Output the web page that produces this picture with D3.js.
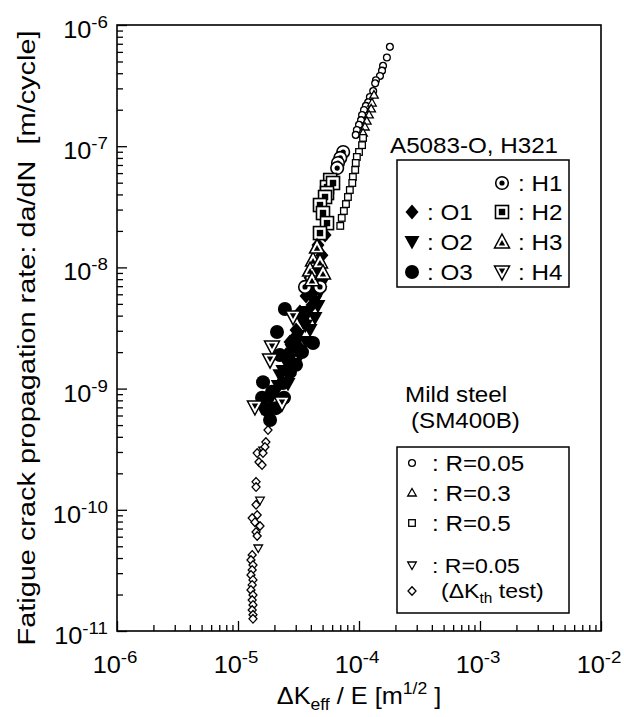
<!DOCTYPE html>
<html>
<head>
<meta charset="utf-8">
<script src="https://cdn.jsdelivr.net/npm/d3@7/dist/d3.min.js"></script>
<style>
  body { margin: 0; background: #fff; }
  svg text { font-family: "Liberation Sans", Arial, sans-serif; fill: #000; }
</style>
</head>
<body>
<div id="chart"></div>
<script>
// ---- data: [dK_eff/E (m^1/2), da/dN (m/cycle)] ----
// A5083-O
const O1 = [[5.24e-5,1.85e-8],[4.58e-5,1.53e-8],[4.94e-5,1.26e-8],[4.25e-5,1.11e-8],[4.76e-5,9.5e-9],
  [3.94e-5,8.2e-9],[4.41e-5,6.76e-9],[3.65e-5,5.8e-9],[4.09e-5,4.9e-9],[3.25e-5,4.29e-9],[3.58e-5,3.55e-9],
  [3.02e-5,3.05e-9],[2.69e-5,2.42e-9],[3.25e-5,2.16e-9],[4.4e-5,1.0e-8],[3.8e-5,6.5e-9],[3.4e-5,4.0e-9],
  [2.9e-5,2.6e-9],[2.5e-5,1.9e-9]];
const O2 = [[4.76e-5,6.27e-9],[4.09e-5,5.6e-9],[4.58e-5,4.8e-9],[3.79e-5,4.29e-9],[4.33e-5,3.83e-9],
  [3.44e-5,3.55e-9],[3.94e-5,3.05e-9],[3.13e-5,2.72e-9],[3.65e-5,2.42e-9],[2.79e-5,2.08e-9],[3.25e-5,1.86e-9],
  [2.49e-5,1.66e-9],[2.90e-5,1.48e-9],[2.22e-5,1.29e-9],[2.59e-5,1.09e-9],[2.06e-5,9.4e-10],[1.84e-5,8.05e-10],
  [1.58e-5,6.9e-10],[5.0e-5,7.5e-9],[4.3e-5,5.2e-9],[3.6e-5,3.3e-9],[3.0e-5,2.3e-9],[2.7e-5,1.75e-9],
  [2.35e-5,1.4e-9],[2.15e-5,1.05e-9]];
const O3 = [[2.44e-5,4.54e-9],[2.10e-5,2.93e-9],[4.17e-5,2.38e-9],[3.38e-5,2.0e-9],[1.61e-5,1.13e-9],
  [2.35e-5,1.11e-9],[1.74e-5,6.65e-10],[1.84e-5,5.5e-10],[2.69e-5,1.37e-9],[1.91e-5,9.4e-10],[2.22e-5,1.89e-9],
  [1.58e-5,8.4e-10],[3.02e-5,1.57e-9],[2.40e-5,8.4e-10],[2.06e-5,6.9e-10]];
// A5083-H321
const H1 = [[7.4e-5,8.96e-8],[7.0e-5,8.0e-8],[6.7e-5,7.27e-8],[6.6e-5,6.6e-8],[3.58e-5,6.9e-9],
  [4.76e-5,6.9e-9],[4.09e-5,8.2e-9]];
const H2 = [[5.78e-5,5.26e-8],[5.44e-5,4.6e-8],[6.1e-5,4.97e-8],[5.44e-5,4.11e-8],[5.24e-5,3.81e-8],
  [4.76e-5,3.27e-8],[5.04e-5,2.81e-8],[5.44e-5,2.32e-8],[4.76e-5,1.92e-8]];
const H3 = [[4.17e-5,1.15e-8],[3.94e-5,9.5e-9],[4.09e-5,7.9e-9],[4.76e-5,1.11e-8],[5.04e-5,9.0e-9],
  [4.50e-5,1.47e-8]];
const H4 = [[1.91e-5,2.2e-9],[1.84e-5,1.72e-9],[1.38e-5,7.05e-10],[2.31e-5,7.6e-10],[2.85e-5,3.9e-9]];
// mild steel SM400B
const steelR005 = [[1.80e-4,6.6e-7],[1.70e-4,5.4e-7],[1.58e-4,4.6e-7],[1.55e-4,4.2e-7],[1.49e-4,3.8e-7],
  [1.38e-4,3.5e-7],[1.36e-4,3.3e-7],[1.31e-4,2.85e-7],[1.23e-4,2.55e-7],[1.19e-4,2.3e-7],[1.14e-4,2.15e-7],
  [1.10e-4,1.99e-7],[1.06e-4,1.81e-7],[1.04e-4,1.64e-7],[1.00e-4,1.50e-7],[9.6e-5,1.36e-7],[9.4e-5,1.24e-7]];
const steelR03 = [[1.33e-4,2.64e-7],[1.28e-4,2.27e-7],[1.26e-4,2.03e-7],[1.21e-4,1.81e-7],[1.16e-4,1.61e-7],
  [1.12e-4,1.44e-7],[1.08e-4,1.285e-7]];
const steelR05 = [[1.08e-4,1.17e-7],[1.06e-4,1.02e-7],[1.00e-4,8.96e-8],[9.6e-5,8.15e-8],[9.4e-5,7.27e-8],
  [9.3e-5,6.37e-8],[8.9e-5,5.57e-8],[8.8e-5,4.97e-8],[8.4e-5,4.35e-8],[8.1e-5,3.81e-8],[7.8e-5,3.33e-8],
  [7.5e-5,2.92e-8],[7.2e-5,2.56e-8],[7.0e-5,2.2e-8]];
const steelKthR005 = [[1.52e-5,1.20e-10],[1.47e-5,4.84e-11],[1.61e-5,3.11e-10]];
const steelKthDia = [[1.77e-5,4.55e-10],[1.70e-5,3.62e-10],[1.67e-5,3.3e-10],[1.44e-5,2.94e-10],[1.61e-5,2.94e-10],
  [1.49e-5,2.48e-10],[1.58e-5,2.34e-10],[1.41e-5,1.70e-10],[1.41e-5,1.54e-10],[1.41e-5,1.10e-10],
  [1.44e-5,9.06e-11],[1.31e-5,8.55e-11],[1.38e-5,7.9e-11],[1.52e-5,7.35e-11],[1.41e-5,6.56e-11],[1.44e-5,6.08e-11],
  [1.31e-5,4.24e-11],[1.28e-5,3.85e-11],[1.33e-5,3.5e-11],[1.31e-5,3.19e-11],[1.28e-5,2.9e-11],[1.33e-5,2.64e-11],
  [1.31e-5,2.4e-11],[1.28e-5,2.18e-11],[1.33e-5,1.98e-11],[1.31e-5,1.80e-11],[1.33e-5,1.64e-11],[1.31e-5,1.49e-11],
  [1.33e-5,1.36e-11],[1.33e-5,1.26e-11]];

const xDecades = [-6, -5, -4, -3, -2];
const yDecades = [-11, -10, -9, -8, -7, -6];

const W = 624, H = 717;
const margin = { top: 25, right: 23, bottom: 86, left: 117 };
const stretch = 1.1   // lettering in the figure is a little wide

let svg = d3.select("#chart").append("svg")
    .attr("width", W)
    .attr("height", H)

let x = d3.scaleLog().domain([1e-6, 1e-2]).range([margin.left, W - margin.right])
let y = d3.scaleLog().domain([1e-11, 1e-6]).range([H - margin.bottom, margin.top])

// text placed at (tx,ty), widened horizontally
function label(tx, ty, size, anchor) {
    return svg.append("text")
        .attr("transform", "translate(" + tx + "," + ty + ") scale(" + stretch + ",1)")
        .attr("text-anchor", anchor || "start")
        .style("font-size", size + "px")
}

// minor + major ticks, pointing inward
function minors(decs) {
    let out = []
    decs.slice(0, -1).forEach(d => {
        for (let m = 2; m <= 9; m++) out.push(m * Math.pow(10, d))
    })
    return out
}
let xMajor = xDecades.map(d => Math.pow(10, d)),
    yMajor = yDecades.map(d => Math.pow(10, d))

svg.append("g").attr("transform", "translate(0," + y.range()[0] + ")")
    .call(d3.axisBottom(x).tickValues(xMajor).tickSize(-10).tickFormat(""))
svg.append("g").attr("transform", "translate(0," + y.range()[0] + ")")
    .call(d3.axisBottom(x).tickValues(minors(xDecades)).tickSize(-6).tickFormat(""))
svg.append("g").attr("transform", "translate(" + x.range()[0] + ",0)")
    .call(d3.axisLeft(y).tickValues(yMajor).tickSize(-10).tickFormat(""))
svg.append("g").attr("transform", "translate(" + x.range()[0] + ",0)")
    .call(d3.axisLeft(y).tickValues(minors(yDecades)).tickSize(-6).tickFormat(""))
svg.selectAll(".domain").remove()
svg.selectAll(".tick line").attr("stroke", "#000").attr("stroke-width", 1.3)

// frame
svg.append("rect")
    .attr("x", x.range()[0]).attr("y", y.range()[1])
    .attr("width", x.range()[1] - x.range()[0])
    .attr("height", y.range()[0] - y.range()[1])
    .attr("fill", "none").attr("stroke", "#000").attr("stroke-width", 1.6)

// tick labels 10^n
xDecades.forEach(d => {
    let t = label(x(Math.pow(10, d)) - 2, y.range()[0] + 42, 23, "middle")
    t.append("tspan").text("10")
    t.append("tspan").attr("dy", -10).style("font-size", "17px").text(d)
})
yDecades.forEach(d => {
    let t = label(x.range()[0] - 9, y(Math.pow(10, d)) + 13, 23, "end")
    t.append("tspan").text("10")
    t.append("tspan").attr("dy", -10).style("font-size", "17px").text(d)
})

// axis titles
let xl = label((x.range()[0] + x.range()[1]) / 2, 704, 23, "middle")
xl.append("tspan").text("\u0394K")
xl.append("tspan").attr("dy", 6).style("font-size", "16px").text("eff")
xl.append("tspan").attr("dy", -6).text(" / E [m")
xl.append("tspan").attr("dy", -10).style("font-size", "16px").text("1/2")
xl.append("tspan").attr("dy", 10).text("\u00a0]")

svg.append("text")
    .attr("transform", "translate(35,338) rotate(-90)")
    .attr("text-anchor", "middle")
    .attr("textLength", 615)
    .attr("lengthAdjust", "spacingAndGlyphs")
    .style("font-size", "23px")
    .text("Fatigue crack propagation rate: da/dN \u00a0[m/cycle]")

// marker shapes
function marker(g, kind) {
    switch (kind) {
        case "O1":
            g.append("path").attr("d", "M0,-7.5L6.5,0L0,7.5L-6.5,0Z").attr("fill", "#000"); break
        case "O2":
            g.append("path").attr("d", "M-7.5,-6L7.5,-6L0,7.5Z").attr("fill", "#000"); break
        case "O3":
            g.append("circle").attr("r", 7).attr("fill", "#000"); break
        case "H1":
            g.append("circle").attr("r", 6.3).attr("fill", "#fff").attr("stroke", "#000").attr("stroke-width", 1.6)
            g.append("circle").attr("r", 2.6).attr("fill", "#000"); break
        case "H2":
            g.append("rect").attr("x", -6.5).attr("y", -6.5).attr("width", 13).attr("height", 13)
                .attr("fill", "#fff").attr("stroke", "#000").attr("stroke-width", 1.6)
            g.append("rect").attr("x", -3.2).attr("y", -3.2).attr("width", 6.4).attr("height", 6.4).attr("fill", "#000"); break
        case "H3":
            g.append("path").attr("d", "M0,-8L7.5,6L-7.5,6Z").attr("fill", "#fff").attr("stroke", "#000").attr("stroke-width", 1.5)
            g.append("path").attr("d", "M0,-2L3.2,3.6L-3.2,3.6Z").attr("fill", "#000"); break
        case "H4":
            g.append("path").attr("d", "M0,8L7.5,-6L-7.5,-6Z").attr("fill", "#fff").attr("stroke", "#000").attr("stroke-width", 1.5)
            g.append("path").attr("d", "M0,2L3.2,-3.6L-3.2,-3.6Z").attr("fill", "#000"); break
        case "Scircle":
            g.append("circle").attr("r", 3.4).attr("fill", "#fff").attr("stroke", "#000").attr("stroke-width", 1.3); break
        case "Stri":
            g.append("path").attr("d", "M0,-4.5L4.3,3L-4.3,3Z").attr("fill", "#fff").attr("stroke", "#000").attr("stroke-width", 1.3); break
        case "Ssquare":
            g.append("rect").attr("x", -3.3).attr("y", -3.3).attr("width", 6.6).attr("height", 6.6)
                .attr("fill", "#fff").attr("stroke", "#000").attr("stroke-width", 1.3); break
        case "Stridown":
            g.append("path").attr("d", "M0,4.5L4.3,-3L-4.3,-3Z").attr("fill", "#fff").attr("stroke", "#000").attr("stroke-width", 1.3); break
        case "Sdiamond":
            g.append("path").attr("d", "M0,-4.3L4,0L0,4.3L-4,0Z").attr("fill", "#fff").attr("stroke", "#000").attr("stroke-width", 1.3); break
    }
}

let series = [
    { data: O1, kind: "O1" }, { data: O2, kind: "O2" }, { data: O3, kind: "O3" },
    { data: H1, kind: "H1" }, { data: H2, kind: "H2" }, { data: H3, kind: "H3" }, { data: H4, kind: "H4" },
    { data: steelR005, kind: "Scircle" }, { data: steelR03, kind: "Stri" }, { data: steelR05, kind: "Ssquare" },
    { data: steelKthR005, kind: "Stridown" }, { data: steelKthDia, kind: "Sdiamond" }
]
series.forEach(s => {
    svg.append("g").selectAll("g")
        .data(s.data)
        .enter()
        .append("g")
        .attr("transform", d => "translate(" + x(d[0]) + "," + y(d[1]) + ")")
        .each(function () { marker(d3.select(this), s.kind) })
})

// legends
function legendItem(kind, cx, cy, text, tx, size) {
    marker(svg.append("g").attr("transform", "translate(" + cx + "," + cy + ")"), kind)
    label(tx, cy + 8, size || 22).text(text)
}
label(390, 153, 22).text("A5083-O, H321")
svg.append("rect").attr("x", 397).attr("y", 160).attr("width", 172).attr("height", 127)
    .attr("fill", "none").attr("stroke", "#000").attr("stroke-width", 1.5)
legendItem("H1", 502, 183, ": H1", 518)
legendItem("O1", 412, 212, ": O1", 427)
legendItem("H2", 502, 212, ": H2", 518)
legendItem("O2", 412, 242, ": O2", 427)
legendItem("H3", 502, 242, ": H3", 518)
legendItem("O3", 412, 272, ": O3", 427)
legendItem("H4", 502, 272, ": H4", 518)

label(405, 402, 22).text("Mild steel")
label(411, 428, 22).text("(SM400B)")
svg.append("rect").attr("x", 397).attr("y", 447).attr("width", 172).attr("height", 166)
    .attr("fill", "none").attr("stroke", "#000").attr("stroke-width", 1.5)
legendItem("Scircle", 412, 463, ": R=0.05", 432)
legendItem("Stri", 412, 493, ": R=0.3", 432)
legendItem("Ssquare", 412, 523, ": R=0.5", 432)
legendItem("Stridown", 412, 565, ": R=0.05", 432, 21)
marker(svg.append("g").attr("transform", "translate(412,591)"), "Sdiamond")
let kt = label(441, 598, 21)
kt.append("tspan").text("(\u0394K")
kt.append("tspan").attr("dy", 5).style("font-size", "14px").text("th")
kt.append("tspan").attr("dy", -5).text(" test)")
</script>
</body>
</html>
